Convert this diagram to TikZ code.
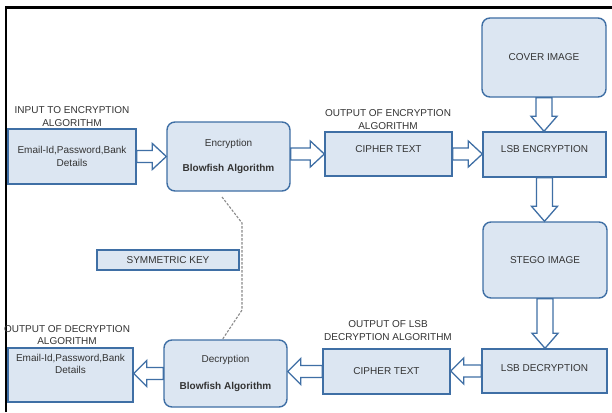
\documentclass[tikz,border=0pt]{standalone}
\usepackage{fontspec}
\setmainfont{Liberation Sans}
\usetikzlibrary{calc}
\definecolor{boxfill}{HTML}{DCE6F2}
\definecolor{boxline}{HTML}{3F6FA5}
\definecolor{txtcol}{HTML}{333333}
\definecolor{keygray}{HTML}{8A8A8A}
\newcommand\blkH[3]{%
  \draw[blk] let \p1=(#1), \p2=(#2) in
    (\x1,{\y1+6pt}) -- ({\x2+(#3)},{\y1+6pt}) -- ({\x2+(#3)},{\y1+13pt}) -- (\x2,\y1)
    -- ({\x2+(#3)},{\y1-13pt}) -- ({\x2+(#3)},{\y1-6pt}) -- (\x1,{\y1-6pt}) -- cycle;}
\newcommand\blkV[3]{%
  \draw[blk] let \p1=(#1), \p2=(#2) in
    ({\x1-8pt},\y1) -- ({\x1-8pt},{\y2+(#3)}) -- ({\x1-13pt},{\y2+(#3)}) -- (\x1,\y2)
    -- ({\x1+13pt},{\y2+(#3)}) -- ({\x1+8pt},{\y2+(#3)}) -- ({\x1+8pt},\y1) -- cycle;}
\begin{document}
\begin{tikzpicture}[x=1pt,y=-1pt,
  txt/.style={text=txtcol,font=\fontsize{10}{12.5}\selectfont,align=center},
  box/.style={draw=boxline,fill=boxfill,line width=1.4pt,txt,inner sep=0pt},
  rbox/.style={box,rounded corners=8pt},
  blk/.style={draw=boxline,fill=white,line width=1.3pt,line join=miter},
  keyline/.style={draw=keygray,line width=1.1pt,dash pattern=on 2.5pt off 1.5pt},
  lbl/.style={txt}]
\useasboundingbox (0,0) rectangle (612,412);
\fill[white] (0,0) rectangle (612,412);
% frame
\draw[line width=2.5pt] (6,412) -- (6,7.5) -- (612,7.5);
% boxes
\node[box,minimum width=128pt,minimum height=55pt] (in) at (72,156.5) {Email-Id,Password,Bank\\Details};
\node[rbox,minimum width=123pt,minimum height=69pt] (enc) at (228.5,156.5) {Encryption\\[13pt]\textbf{Blowfish Algorithm}};
\node[box,minimum width=127pt,minimum height=44pt,label={[txt,yshift=5pt]center:CIPHER TEXT}] (ciph1) at (388.5,154) {};
\node[box,minimum width=123pt,minimum height=45pt,label={[txt,yshift=5pt]center:LSB ENCRYPTION}] (lsbe) at (544.5,154.5) {};
\node[rbox,minimum width=124pt,minimum height=79pt] (cover) at (544,57.5) {COVER IMAGE};
\node[rbox,minimum width=124pt,minimum height=76pt] (stego) at (545,260) {STEGO IMAGE};
\node[box,minimum width=125pt,minimum height=44pt,label={[txt,yshift=3pt]center:LSB DECRYPTION}] (lsbd) at (544.5,371) {};
\node[box,minimum width=127pt,minimum height=45pt] (ciph2) at (386.5,371.5) {CIPHER TEXT};
\node[rbox,minimum width=123pt,minimum height=67pt] (dec) at (225.5,373.5) {Decryption\\[14pt]\textbf{Blowfish Algorithm}};
\node[box,minimum width=125pt,minimum height=54pt,label={[txt,yshift=11pt]center:Email-Id,Password,Bank\\Details}] (out) at (70.5,375) {};
\node[box,minimum width=142pt,minimum height=20pt] (key) at (168,260) {SYMMETRIC KEY};
% labels
\node[lbl] (lin) at (72,116.5) {INPUT TO ENCRYPTION\\ALGORITHM};
\node[lbl] (lc1) at (388,119.5) {OUTPUT OF ENCRYPTION\\ALGORITHM};
\node[lbl] (lc2) at (388,330.5) {OUTPUT OF LSB\\DECRYPTION ALGORITHM};
\node[lbl] (lout) at (67,335) {OUTPUT OF DECRYPTION\\ALGORITHM};
% block arrows
\blkH{in.east}{enc.west}{-14pt}
\blkH{enc.east |- ciph1.west}{ciph1.west}{-14pt}
\blkH{ciph1.east}{lsbe.west}{-14pt}
\blkV{cover.south}{lsbe.north}{15pt}
\blkV{lsbe.south}{stego.north}{15pt}
\blkV{stego.south}{lsbd.north}{15pt}
\blkH{lsbd.west}{ciph2.east}{13pt}
\blkH{ciph2.west}{dec.east}{13pt}
\blkH{dec.west}{out.east}{13pt}
% symmetric key dashed link
\coordinate (k1) at (222,197);
\coordinate (k2) at (242,223);
\coordinate (k3) at (242,310);
\draw[keyline] (k1) -- (k2) -- (k3) -- ($(dec.north)+(-3,0)$);
\end{tikzpicture}
\end{document}
